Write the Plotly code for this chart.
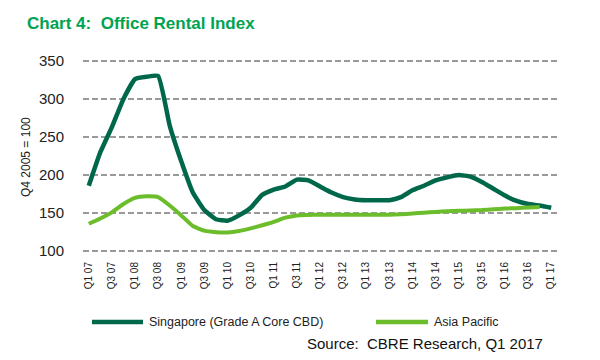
import plotly.graph_objects as go

quarters = [
    "Q1 07", "Q2 07", "Q3 07", "Q4 07", "Q1 08", "Q2 08", "Q3 08", "Q4 08",
    "Q1 09", "Q2 09", "Q3 09", "Q4 09", "Q1 10", "Q2 10", "Q3 10", "Q4 10",
    "Q1 11", "Q2 11", "Q3 11", "Q4 11", "Q1 12", "Q2 12", "Q3 12", "Q4 12",
    "Q1 13", "Q2 13", "Q3 13", "Q4 13", "Q1 14", "Q2 14", "Q3 14", "Q4 14",
    "Q1 15", "Q2 15", "Q3 15", "Q4 15", "Q1 16", "Q2 16", "Q3 16", "Q4 16",
    "Q1 17",
]
tick_labels = [
    "Q1 07", "Q3 07", "Q1 08", "Q3 08", "Q1 09", "Q3 09", "Q1 10", "Q3 10",
    "Q1 11", "Q3 11", "Q1 12", "Q3 12", "Q1 13", "Q3 13", "Q1 14", "Q3 14",
    "Q1 15", "Q3 15", "Q1 16", "Q3 16", "Q1 17",
]
singapore = [
    186, 230, 263, 300, 326, 329, 330, 265, 218, 177, 154, 142, 140, 147, 157, 174,
    181, 185, 194, 193, 185, 177, 171, 168, 167, 167, 167, 171, 180, 186, 193, 197,
    200, 198, 191, 182, 173, 166, 162, 160, 157,
]
asia_pacific = [
    136, 143, 151, 162, 170, 172, 171, 160, 147, 133, 127, 125, 124.5, 126.5, 130, 134,
    138.5, 144, 147, 147.5, 148, 148, 148, 148, 148, 148, 148, 148.5, 149.5, 150.5, 151.5, 152.5,
    153, 153.5, 154, 155, 156, 156.5, 157.5, 158, None,
]

DARK = "#00684A"
LIGHT = "#6CBD2C"
FONT = "Liberation Sans, Arial, sans-serif"

fig = go.Figure()
fig.add_trace(go.Scatter(x=quarters, y=singapore, mode="lines", name="Singapore (Grade A Core CBD)",
                         line=dict(color=DARK, width=4.5, shape="spline", smoothing=0.4),
                         showlegend=False))
fig.add_trace(go.Scatter(x=quarters, y=asia_pacific, mode="lines", name="Asia Pacific",
                         line=dict(color=LIGHT, width=4, shape="spline", smoothing=0.4),
                         showlegend=False))

L, R, T, B = 83, 43, 57, 105
W, H = 600, 360
pw = W - L - R
ph = H - T - B
def px(xp):
    return (xp - L) / pw
def py(yp):
    return (H - B - yp) / ph

fig.update_layout(
    width=W, height=H,
    margin=dict(l=L, r=R, t=T, b=B),
    paper_bgcolor="white", plot_bgcolor="white",
    title=dict(text="<b>Chart 4:  Office Rental Index</b>", x=27 / W, xref="container", xanchor="left",
               y=1 - 23 / H, yref="container", yanchor="middle",
               font=dict(family=FONT, size=17, color="#00A350")),
    xaxis=dict(type="category", range=[-0.5, 40.5], tickmode="array", tickvals=tick_labels,
               ticktext=tick_labels, tickangle=-90, showgrid=False, zeroline=False, showline=False,
               ticks="", automargin=False, ticklabelstandoff=4,
               tickfont=dict(family=FONT, size=10, color="#222")),
    yaxis=dict(range=[95, 355], tickvals=[100, 150, 200, 250, 300, 350], showgrid=True,
               gridcolor="#9a9a9a", gridwidth=1.5, griddash="6px,3px", zeroline=False, showline=False,
               ticks="", automargin=False, ticklabelstandoff=18,
               tickfont=dict(family=FONT, size=15, color="#222")),
)

fig.add_annotation(text="Q4 2005 = 100", textangle=-90, x=0, xref="paper", xshift=26 - L,
                   y=py(157), yref="paper", showarrow=False, xanchor="center", yanchor="middle",
                   font=dict(family=FONT, size=12, color="#222"))

# legend drawn manually
fig.add_shape(type="line", xref="paper", yref="paper", x0=px(92), x1=px(143), y0=py(322), y1=py(322),
              line=dict(color=DARK, width=4.5))
fig.add_annotation(text="Singapore (Grade A Core CBD)", x=px(147), y=py(322), xref="paper", yref="paper",
                   showarrow=False, xanchor="left", yanchor="middle",
                   font=dict(family=FONT, size=12.5, color="#222"))
fig.add_shape(type="line", xref="paper", yref="paper", x0=px(376), x1=px(428), y0=py(322), y1=py(322),
              line=dict(color=LIGHT, width=4.5))
fig.add_annotation(text="Asia Pacific", x=px(432), y=py(322), xref="paper", yref="paper",
                   showarrow=False, xanchor="left", yanchor="middle",
                   font=dict(family=FONT, size=12.5, color="#222"))
fig.add_annotation(text="Source:  CBRE Research, Q1 2017", x=px(545), y=py(343), xref="paper", yref="paper",
                   showarrow=False, xanchor="right", yanchor="middle",
                   font=dict(family=FONT, size=15, color="#111"))

fig.write_html("out.html", config={"displayModeBar": False},
               post_script="document.body.style.margin='0';")
